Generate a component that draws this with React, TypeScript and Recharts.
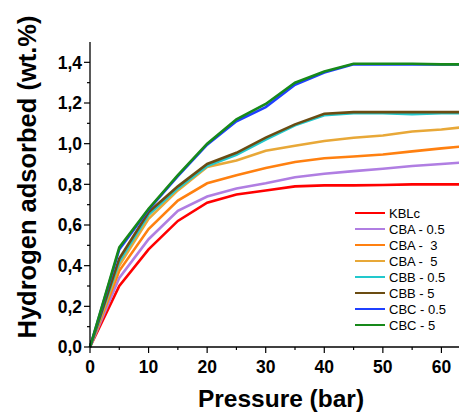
import React from "react";
import { LineChart, Line, XAxis, YAxis, Legend, Label } from "recharts";

const pressure = [0, 5, 10, 15, 20, 25, 30, 35, 40, 45, 50, 55, 60, 65];

const kblc = [0, 0.3, 0.48, 0.62, 0.71, 0.75, 0.77, 0.79, 0.795, 0.795, 0.797, 0.8, 0.8, 0.8];
const cba05 = [0, 0.34, 0.53, 0.67, 0.74, 0.78, 0.805, 0.835, 0.852, 0.865, 0.877, 0.89, 0.9, 0.91];
const cba3 = [0, 0.375, 0.58, 0.72, 0.805, 0.845, 0.88, 0.91, 0.928, 0.937, 0.947, 0.962, 0.977, 0.99];
const cba5 = [0, 0.4, 0.63, 0.77, 0.885, 0.917, 0.965, 0.99, 1.013, 1.029, 1.04, 1.06, 1.07, 1.085];
const cbb05 = [0, 0.42, 0.65, 0.78, 0.89, 0.945, 1.02, 1.09, 1.14, 1.15, 1.15, 1.145, 1.15, 1.15];
const cbb5 = [0, 0.435, 0.663, 0.79, 0.9, 0.955, 1.03, 1.095, 1.147, 1.155, 1.155, 1.155, 1.155, 1.155];
const cbc05 = [0, 0.48, 0.675, 0.84, 0.995, 1.11, 1.18, 1.29, 1.35, 1.39, 1.39, 1.39, 1.39, 1.39];
const cbc5 = [0, 0.49, 0.68, 0.845, 1.0, 1.12, 1.195, 1.3, 1.355, 1.393, 1.393, 1.393, 1.39, 1.39];

const xTicks = [0, 5, 10, 15, 20, 25, 30, 35, 40, 45, 50, 55, 60, 65];
const yTicks = [0, 0.1, 0.2, 0.3, 0.4, 0.5, 0.6, 0.7, 0.8, 0.9, 1.0, 1.1, 1.2, 1.3, 1.4];

const series = [
  { key: "kblc", name: "KBLc", values: kblc, color: "#ff0000" },
  { key: "cba05", name: "CBA - 0.5", values: cba05, color: "#b07ee2" },
  { key: "cba3", name: "CBA -  3", values: cba3, color: "#ff8010" },
  { key: "cba5", name: "CBA -  5", values: cba5, color: "#e8a838" },
  { key: "cbb05", name: "CBB - 0.5", values: cbb05, color: "#22c8cc" },
  { key: "cbb5", name: "CBB - 5", values: cbb5, color: "#6b4c12" },
  { key: "cbc05", name: "CBC - 0.5", values: cbc05, color: "#1f40ff" },
  { key: "cbc5", name: "CBC - 5", values: cbc5, color: "#17891a" },
];

const data = pressure.map((p, i) => {
  const row: Record<string, number> = { p };
  series.forEach((s) => {
    row[s.key] = s.values[i];
  });
  return row;
});

const FONT = "'Liberation Sans', Arial, sans-serif";
const AXIS = { stroke: "#000", strokeWidth: 1.3 };

const BottomTick = (props: any) => {
  const { x, y, payload } = props;
  const major = payload.value % 10 === 0;
  return (
    <g>
      <line x1={x} y1={y} x2={x} y2={y + (major ? 6 : 3)} stroke="#000" strokeWidth={1.2} />
      {major && (
        <text x={x} y={y + 26} textAnchor="middle" fontFamily={FONT} fontWeight="bold" fontSize={17.5} fill="#000">
          {payload.value}
        </text>
      )}
    </g>
  );
};

const TopTick = (props: any) => {
  const { x, y, payload } = props;
  const major = payload.value % 10 === 0;
  return <line x1={x} y1={y} x2={x} y2={y + (major ? 5 : 3)} stroke="#000" strokeWidth={1.2} />;
};

const LeftTick = (props: any) => {
  const { x, y, payload } = props;
  const major = Math.round(payload.value * 10) % 2 === 0;
  return (
    <g>
      <line x1={x} y1={y} x2={x - (major ? 6 : 3)} y2={y} stroke="#000" strokeWidth={1.2} />
      {major && (
        <text x={x - 8} y={y} dy="0.36em" textAnchor="end" fontFamily={FONT} fontWeight="bold" fontSize={17.5} fill="#000">
          {payload.value.toFixed(1).replace(".", ",")}
        </text>
      )}
    </g>
  );
};

const LegendBox = () => (
  <div style={{ fontFamily: FONT, fontSize: 13, color: "#000" }}>
    {series.map((s) => (
      <div key={s.key} style={{ display: "flex", alignItems: "center", height: 16, whiteSpace: "pre" }}>
        <span style={{ display: "inline-block", width: 30, height: 2.5, background: s.color, marginRight: 4 }} />
        <span>{s.name}</span>
      </div>
    ))}
  </div>
);

export default function App() {
  return (
    <div style={{ position: "absolute", left: 0, top: 0, width: 459, height: 413, overflow: "hidden", background: "#fff" }}>
      <LineChart width={500} height={413} data={data} margin={{ top: 42, right: 0, bottom: 0, left: 0 }}>
        <XAxis
          dataKey="p"
          type="number"
          domain={[0, 70]}
          ticks={xTicks}
          interval={0}
          height={66}
          tickSize={0}
          tickMargin={0}
          tickLine={false}
          axisLine={AXIS}
          tick={<BottomTick />}
        >
          <Label
            content={() => (
              <text x={281} y={407} textAnchor="middle" fontFamily={FONT} fontWeight="bold" fontSize={24.5} fill="#000">
                Pressure (bar)
              </text>
            )}
          />
        </XAxis>
        <XAxis
          xAxisId="top"
          orientation="top"
          dataKey="p"
          type="number"
          domain={[0, 70]}
          ticks={xTicks}
          interval={0}
          height={0}
          tickSize={0}
          tickMargin={0}
          tickLine={false}
          axisLine={AXIS}
          tick={<TopTick />}
        />
        <YAxis
          type="number"
          domain={[0, 1.5]}
          ticks={yTicks}
          interval={0}
          width={90}
          tickSize={0}
          tickMargin={0}
          tickLine={false}
          axisLine={AXIS}
          tick={<LeftTick />}
        >
          <Label
            content={() => (
              <text
                x={27}
                y={177}
                transform="rotate(-90 27 177)"
                textAnchor="middle"
                dominantBaseline="central"
                fontFamily={FONT}
                fontWeight="bold"
                fontSize={25.5}
                fill="#000"
              >
                Hydrogen adsorbed (wt.%)
              </text>
            )}
          />
        </YAxis>
        <Legend
          layout="vertical"
          align="center"
          verticalAlign="middle"
          content={<LegendBox />}
          wrapperStyle={{ left: 355, top: 205, width: 110 }}
        />
        {series.map((s) => (
          <Line
            key={s.key}
            dataKey={s.key}
            name={s.name}
            stroke={s.color}
            strokeWidth={2.6}
            dot={false}
            type="linear"
            isAnimationActive={false}
          />
        ))}
      </LineChart>
    </div>
  );
}
